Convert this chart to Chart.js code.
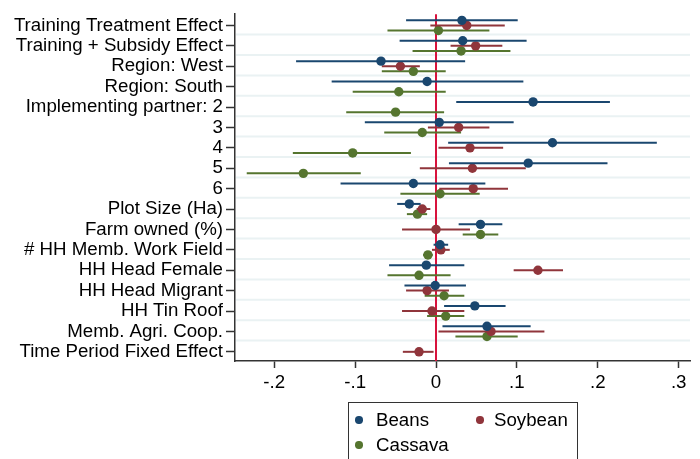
<!DOCTYPE html>
<html>
<head>
<meta charset="utf-8">
<script src="https://cdn.jsdelivr.net/npm/chart.js@4/dist/chart.umd.min.js"></script>
<style>
  body { margin: 0; background: #fff; }
  #wrap { position: relative; width: 700px; height: 459px; overflow: hidden; }
  #legend {
    position: absolute; left: 348px; top: 402px; width: 230px; height: 70px;
    border: 1px solid #333; box-sizing: border-box;
    font-family: "Liberation Sans", Arial, sans-serif; font-size: 18.7px; color: #000;
  }
  .item { position: absolute; white-space: nowrap; line-height: 1; }
  .dot { position: absolute; width: 7.4px; height: 7.4px; border-radius: 50%; }
</style>
</head>
<body>
<div id="wrap">
  <canvas id="myChart" width="700" height="459"></canvas>
  <div id="legend"></div>
</div>
<script>
const categories = [
  'Training Treatment Effect', 'Training + Subsidy Effect', 'Region: West', 'Region: South',
  'Implementing partner: 2', '3', '4', '5', '6', 'Plot Size (Ha)', 'Farm owned (%)',
  '# HH Memb. Work Field', 'HH Head Female', 'HH Head Migrant', 'HH Tin Roof',
  'Memb. Agri. Coop.', 'Time Period Fixed Effect'
];

const beansCoef = [0.032, 0.033, -0.068, -0.011, 0.120, 0.004, 0.144, 0.114, -0.028, -0.033, 0.055, 0.005, -0.012, -0.001, 0.048, 0.063, null];
const beansLo   = [-0.037, -0.045, -0.173, -0.129, 0.025, -0.088, 0.015, 0.016, -0.118, -0.048, 0.028, -0.003, -0.058, -0.039, 0.010, 0.008, null];
const beansHi   = [0.101, 0.112, 0.036, 0.108, 0.215, 0.096, 0.273, 0.212, 0.061, -0.019, 0.082, 0.015, 0.035, 0.037, 0.086, 0.117, null];

const soyCoef = [0.038, 0.049, -0.044, null, null, 0.028, 0.042, 0.045, 0.046, -0.017, 0.000, 0.006, 0.126, -0.011, -0.005, 0.068, -0.021];
const soyLo   = [-0.007, 0.018, -0.067, null, null, -0.010, 0.003, -0.020, 0.004, -0.024, -0.042, -0.005, 0.096, -0.037, -0.042, 0.003, -0.041];
const soyHi   = [0.085, 0.082, -0.020, null, null, 0.066, 0.083, 0.111, 0.089, -0.007, 0.042, 0.017, 0.157, 0.016, 0.035, 0.134, -0.003];

const cassCoef = [0.003, 0.031, -0.028, -0.046, -0.050, -0.017, -0.103, -0.164, 0.005, -0.023, 0.055, -0.010, -0.021, 0.010, 0.012, 0.063, null];
const cassLo   = [-0.060, -0.029, -0.067, -0.103, -0.111, -0.064, -0.177, -0.234, -0.044, -0.036, 0.033, -0.016, -0.060, -0.014, -0.011, 0.024, null];
const cassHi   = [0.066, 0.092, 0.012, 0.012, 0.010, 0.031, -0.031, -0.093, 0.054, -0.011, 0.077, -0.004, 0.018, 0.035, 0.035, 0.101, null];

const xTickValues = [-0.2, -0.1, 0, 0.1, 0.2, 0.3];
const xTickLabels = ['-.2', '-.1', '0', '.1', '.2', '.3'];

const FONT = { family: '"Liberation Sans", Arial, sans-serif', size: 18.7 };

function makeSeries(label, color, coef, lo, hi, offset) {
  const pts = [];
  coef.forEach((c, i) => {
    if (c !== null) pts.push({ x: c, y: i + 1 + offset, lo: lo[i], hi: hi[i] });
  });
  return {
    label: label,
    data: pts,
    backgroundColor: color,
    borderColor: color,
    pointRadius: 4.7,
    pointBorderWidth: 0,
    showLine: false
  };
}

// background grid between categories + red zero line
const backdrop = {
  id: 'backdrop',
  beforeDatasetsDraw(chart) {
    const { ctx, chartArea, scales } = chart;
    ctx.save();
    ctx.strokeStyle = '#eaf2f3';
    ctx.lineWidth = 2;
    for (let i = 1; i < categories.length; i++) {
      const y = scales.y.getPixelForValue(i + 0.45);
      ctx.beginPath();
      ctx.moveTo(chartArea.left + 1, y);
      ctx.lineTo(chartArea.right, y);
      ctx.stroke();
    }
    const x0 = scales.x.getPixelForValue(0);
    ctx.strokeStyle = '#d8123c';
    ctx.lineWidth = 2;
    ctx.beginPath();
    ctx.moveTo(x0, chartArea.top);
    ctx.lineTo(x0, chartArea.bottom);
    ctx.stroke();
    ctx.restore();
  }
};

// confidence interval spikes, drawn under each series' own markers
const ciBars = {
  id: 'ciBars',
  beforeDatasetDraw(chart, args) {
    const ds = chart.data.datasets[args.index];
    const { ctx, scales } = chart;
    ctx.save();
    ctx.strokeStyle = ds.borderColor;
    ctx.lineWidth = 2;
    ds.data.forEach(p => {
      const y = scales.y.getPixelForValue(p.y);
      ctx.beginPath();
      ctx.moveTo(scales.x.getPixelForValue(p.lo), y);
      ctx.lineTo(scales.x.getPixelForValue(p.hi), y);
      ctx.stroke();
    });
    ctx.restore();
  }
};

const ctx = document.getElementById('myChart').getContext('2d');
const myChart = new Chart(ctx, {
  type: 'scatter',
  data: {
    datasets: [
      makeSeries('Beans', '#1a476f', beansCoef, beansLo, beansHi, -0.25),
      makeSeries('Soybean', '#90353b', soyCoef, soyLo, soyHi, 0),
      makeSeries('Cassava', '#55752f', cassCoef, cassLo, cassHi, 0.25)
    ]
  },
  options: {
    responsive: false,
    animation: false,
    layout: { padding: { top: 12, right: 10, bottom: 58, left: 0 } },
    plugins: {
      legend: { display: false },
      tooltip: { enabled: false }
    },
    scales: {
      x: {
        type: 'linear',
        min: -0.2485,
        max: 0.314,
        afterBuildTicks: s => { s.ticks = xTickValues.map(v => ({ value: v })); },
        afterFit: s => { s.height = 40; },
        ticks: {
          color: '#000',
          font: FONT,
          padding: 4,
          maxRotation: 0,
          callback: v => xTickLabels[xTickValues.indexOf(v)]
        },
        grid: { drawOnChartArea: false, tickLength: 7, tickColor: '#333', tickWidth: 1.5 },
        border: { color: '#333', width: 1.5 }
      },
      y: {
        type: 'linear',
        reverse: true,
        min: 0.45,
        max: 17.45,
        afterBuildTicks: s => { s.ticks = categories.map((c, i) => ({ value: i + 1 })); },
        afterFit: s => { s.width = 235; },
        ticks: {
          color: '#000',
          font: FONT,
          padding: 3,
          autoSkip: false,
          callback: v => categories[v - 1]
        },
        grid: { drawOnChartArea: false, tickLength: 9, tickColor: '#333', tickWidth: 1.5 },
        border: { color: '#333', width: 1.5 }
      }
    }
  },
  plugins: [backdrop, ciBars]
});

// HTML legend built from the chart's datasets
const legendPos = [
  { dot: [10, 17], text: [27, 8] },
  { dot: [131, 17], text: [145, 8] },
  { dot: [10, 42], text: [27, 33] }
];
const legendEl = document.getElementById('legend');
myChart.data.datasets.forEach((ds, i) => {
  const p = legendPos[i];
  const dot = document.createElement('div');
  dot.className = 'dot';
  dot.style.background = ds.backgroundColor;
  dot.style.left = (p.dot[0] - 3.7) + 'px';
  dot.style.top = (p.dot[1] - 3.7) + 'px';
  const txt = document.createElement('div');
  txt.className = 'item';
  txt.style.left = p.text[0] + 'px';
  txt.style.top = p.text[1] + 'px';
  txt.textContent = ds.label;
  legendEl.appendChild(dot);
  legendEl.appendChild(txt);
});
</script>
</body>
</html>
